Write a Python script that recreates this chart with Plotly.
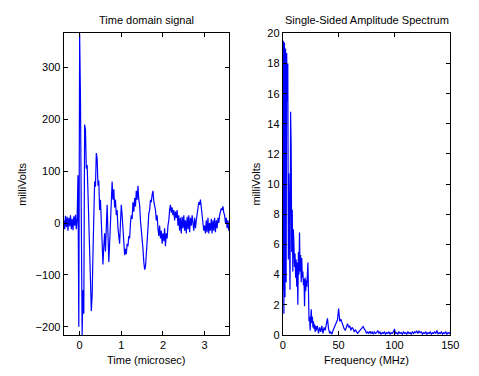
import numpy as np
import plotly.graph_objects as go

# ---- Time-domain signal (sampled every 0.02 microsec starting at -0.38) ----
t_start = -0.38
t_step = 0.02
signal_mv = [
    5, -12, 14, -8, 12, -15, 10, -6, 15, -12,            # -0.38 .. -0.20
    8, -14, 13, -5, 16, -12, 9, 92, -200, 365,           # -0.18 .. 0.00
    240, -160, -216, -130, -175, 190, 180, 105, 112, 60,  # 0.02 .. 0.20
    -20, -95, -110, -170, -140, -60, 20, 80, 70, 135,    # 0.22 .. 0.40
    125, 72, 82, 25, 45, -10, -35, -80, -45, -20,         # 0.42 .. 0.60
    -55, 10, 35, -20, -75, -40, 15, 50, 80, 45,           # 0.62 .. 0.80
    65, 30, 45, 15, 25, -10, -25, -40, 0, 35,             # 0.82 .. 1.00
    15, -20, -45, -62, -50, -60, -40, -45, -25, -30,      # 1.02 .. 1.20
    0, 15, 8, 40, 22, 48, 32, 62, 45, 72,                 # 1.22 .. 1.40
    45, 35, 5, -10, -38, -50, -75, -90, -85, -65,         # 1.42 .. 1.60
    -30, -10, 18, 25, 45, 40, 55, 62, 42, 35,             # 1.62 .. 1.80
    25, 5, 15, -10, -25, -5, -30, -15, -40, -20,          # 1.82 .. 2.00
    -35, -10, -45, -20, -30, -5, 5, 25, 35, 20,           # 2.02 .. 2.20
    30, 15, 25, 5, 22, 10, 25, -5, 15, -15,               # 2.22 .. 2.40
    10, -20, 12, -10, 15, -15, 5, -20, 12, -12,           # 2.42 .. 2.60
    15, -18, 10, -5, 15, 0, -15, 10, -10, 5,              # 2.62 .. 2.80
    20, 25, 40, 35, 45, 30, 15, 5, -15, -5,               # 2.82 .. 3.00
    -20, 5, -18, 10, -20, 0, -15, 8, -20, 5,              # 3.02 .. 3.20
    -15, 10, -18, 5, -10, 10, 0, 15, 20, 28,              # 3.22 .. 3.40
    25, 32, 20, 15, 0, 10, -10, 5, -15,                   # 3.42 .. 3.58
]
time_us = [t_start + t_step * i for i in range(len(signal_mv))]

# ---- Single-sided amplitude spectrum ----
spec_low_step = 0.5   # MHz, 0 .. 29.5
spec_low = [
    3.0, 19.5, 1.4, 19.4, 2.5, 19.0, 3.5, 18.7, 15.5, 18.0,
    5.0, 10.7, 7.5, 3.0, 14.8, 12.7, 5.5, 8.3, 4.2, 7.0,
    6.0, 4.5, 5.4, 3.8, 5.0, 3.2, 4.8, 2.0, 5.5, 4.0,
    6.8, 4.2, 5.3, 3.5, 5.1, 3.8, 4.2, 3.3, 3.7, 1.9,
    3.8, 2.9, 3.6, 3.2, 4.0, 4.8, 3.0, 0.9, 1.2, 0.3,
    1.5, 1.7, 0.8, 1.2, 0.5, 0.9, 0.4, 0.7, 0.2, 0.6,
]
spec_high_start = 30.0
spec_high_step = 1.0  # MHz, 30 .. 150
spec_high = [
    0.3, 0.6, 0.1, 0.5, 0.2, 0.6, 0.1, 0.5, 0.3, 0.6,
    1.1, 0.4, 0.1, 0.2, 0.05, 0.3, 0.5, 0.6, 0.8, 1.0,
    1.75, 0.9, 1.05, 0.8, 0.6, 0.4, 0.3, 0.5, 0.75, 0.5,
    0.6, 0.3, 0.5, 0.4, 0.2, 0.35, 0.2, 0.1, 0.2, 0.3,
    0.4, 0.5, 0.55, 0.4, 0.3, 0.1, 0.2, 0.1, 0.25, 0.1,
    0.2, 0.05, 0.2, 0.1, 0.15, 0.3, 0.1, 0.2, 0.05, 0.15,
    0.1, 0.2, 0.05, 0.15, 0.1, 0.2, 0.05, 0.15, 0.1, 0.2,
    0.4, 0.1, 0.15, 0.05, 0.2, 0.1, 0.15, 0.05, 0.2, 0.1,
    0.15, 0.05, 0.2, 0.1, 0.15, 0.05, 0.2, 0.1, 0.2, 0.15,
    0.25, 0.1, 0.25, 0.15, 0.2, 0.05, 0.15, 0.1, 0.2, 0.05,
    0.15, 0.1, 0.2, 0.05, 0.15, 0.1, 0.2, 0.1, 0.3, 0.05,
    0.15, 0.1, 0.2, 0.05, 0.15, 0.1, 0.2, 0.05, 0.15, 0.1,
    0.2,
]
freq_mhz = [spec_low_step * i for i in range(len(spec_low))] + \
           [spec_high_start + spec_high_step * i for i in range(len(spec_high))]
amp_mv = spec_low + spec_high

left_title = "Time domain signal"
right_title = "Single-Sided Amplitude Spectrum"
left_xlabel = "Time (microsec)"
right_xlabel = "Frequency (MHz)"
ylabel = "milliVolts"

# The page body has an 8px default margin; size and place the figure so the
# plotted result lines up with the 479x376 window.
OFF = 8
W, H = 479 - 2 * OFF, 376 - 2 * OFF
FONT = "Liberation Sans, Arial, Helvetica, sans-serif"
FS = 11

def px_x(p):
    return (p - OFF) / W

def px_y(p):
    return 1 - (p - OFF) / H

fig = go.Figure()
fig.add_trace(go.Scatter(x=time_us, y=signal_mv, mode="lines",
                         line=dict(color="#0000FF", width=1.2),
                         xaxis="x", yaxis="y", showlegend=False))
fig.add_trace(go.Scatter(x=freq_mhz, y=amp_mv, mode="lines",
                         line=dict(color="#0000FF", width=1.2),
                         xaxis="x2", yaxis="y2", showlegend=False))

axis_common = dict(showline=True, linecolor="black", linewidth=1, mirror="ticks",
                   ticks="inside", ticklen=4, tickcolor="black", tickwidth=1,
                   showgrid=False, zeroline=False,
                   tickfont=dict(family=FONT, size=FS, color="black"))

L0, L1 = 62, 232
R0, R1 = 287, 459
T0, B0 = 28, 340

fig.update_layout(
    width=W, height=H,
    margin=dict(l=0, r=0, t=0, b=0),
    paper_bgcolor="white", plot_bgcolor="white",
    font=dict(family=FONT, size=FS, color="black"),
    xaxis=dict(domain=[px_x(L0), px_x(L1)], range=[-0.385, 3.59],
               tickvals=[0, 1, 2, 3], anchor="y", **axis_common),
    yaxis=dict(domain=[px_y(B0), px_y(T0)], range=[-216, 366],
               tickvals=[-200, -100, 0, 100, 200, 300], anchor="x", **axis_common),
    xaxis2=dict(domain=[px_x(R0), px_x(R1)], range=[0, 150],
                tickvals=[0, 50, 100, 150], anchor="y2", **axis_common),
    yaxis2=dict(domain=[px_y(B0), px_y(T0)], range=[0, 20],
                tickvals=list(range(0, 21, 2)), anchor="x2", **axis_common),
)

ann = [
    dict(text=left_title, x=px_x((L0 + L1) / 2), y=px_y(14), angle=0),
    dict(text=right_title, x=px_x((R0 + R1) / 2), y=px_y(14), angle=0),
    dict(text=left_xlabel, x=px_x((L0 + L1) / 2), y=px_y(366), angle=0),
    dict(text=right_xlabel, x=px_x((R0 + R1) / 2), y=px_y(366), angle=0),
    dict(text=ylabel, x=px_x(19), y=px_y((T0 + B0) / 2), angle=-90),
    dict(text=ylabel, x=px_x(260), y=px_y((T0 + B0) / 2), angle=-90),
]
for a in ann:
    fig.add_annotation(text=a["text"], x=a["x"], y=a["y"], xref="paper", yref="paper",
                       xanchor="center", yanchor="middle", showarrow=False,
                       textangle=a["angle"], font=dict(family=FONT, size=FS, color="black"))

fig.write_html("out.html")
